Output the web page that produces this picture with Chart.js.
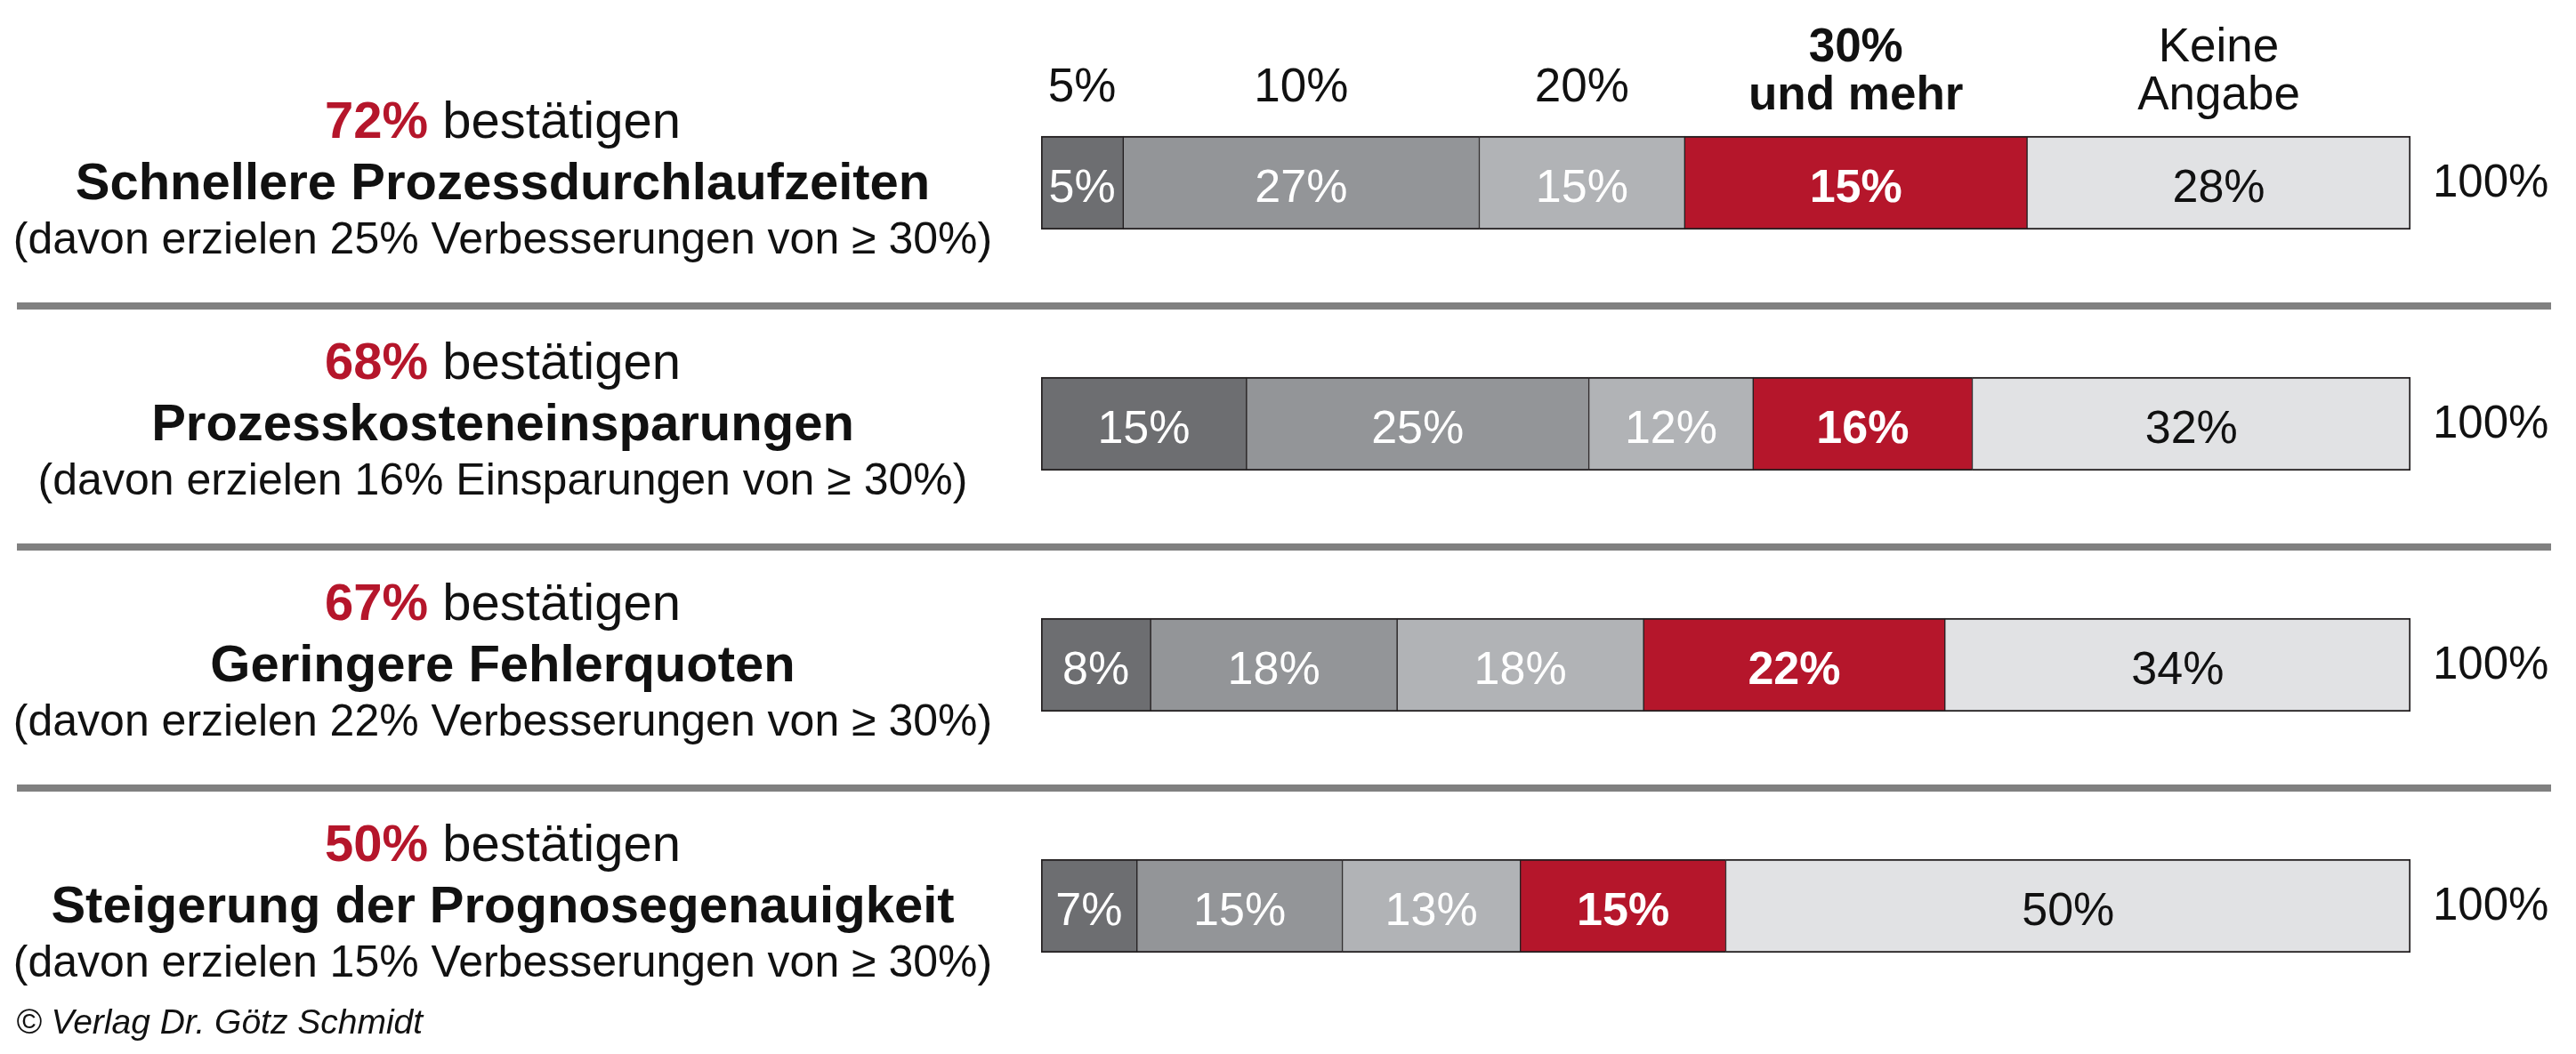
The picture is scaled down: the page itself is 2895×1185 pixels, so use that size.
<!DOCTYPE html>
<html lang="de">
<head>
<meta charset="utf-8">
<title>Bestätigte Verbesserungen</title>
<script src="https://cdn.jsdelivr.net/npm/chart.js@4.4.1/dist/chart.umd.min.js"></script>
<style>
  html, body { margin: 0; padding: 0; background: #fff; }
  #wrap { width: 2895px; height: 1185px; }
</style>
</head>
<body>
<div id="wrap"><canvas id="chart" width="2895" height="1185"></canvas></div>
<script>
// rows, top to bottom
const shares = ["72%", "68%", "67%", "50%"];
const titles = [
  "Schnellere Prozessdurchlaufzeiten",
  "Prozesskosteneinsparungen",
  "Geringere Fehlerquoten",
  "Steigerung der Prognosegenauigkeit"
];
const notes = [
  "(davon erzielen 25% Verbesserungen von \u2265 30%)",
  "(davon erzielen 16% Einsparungen von \u2265 30%)",
  "(davon erzielen 22% Verbesserungen von \u2265 30%)",
  "(davon erzielen 15% Verbesserungen von \u2265 30%)"
];

// column headers above the first bar
const headers = [["5%"], ["10%"], ["20%"], ["30%", "und mehr"], ["Keine", "Angabe"]];

// segment widths as drawn (row 1 is drawn 6/26/15/25/28, its printed labels differ)
const seg5 = [6, 15, 8, 7];
const seg10 = [26, 25, 18, 15];
const seg20 = [15, 12, 18, 13];
const seg30 = [25, 16, 22, 15];
const segNone = [28, 32, 34, 50];

// labels printed in the segments
const lbl5 = ["5%", "15%", "8%", "7%"];
const lbl10 = ["27%", "25%", "18%", "15%"];
const lbl20 = ["15%", "12%", "18%", "13%"];
const lbl30 = ["15%", "16%", "22%", "15%"];
const lblNone = ["28%", "32%", "34%", "50%"];
const totals = ["100%", "100%", "100%", "100%"];

const FONT = '"Liberation Sans", Arial, Helvetica, sans-serif';
const RED = "#b5162b";
const INK = "#111111";

function font(size, weight, style) {
  return `${style || "normal"} ${weight || "normal"} ${size}px ${FONT}`;
}

function segment(data, printed, color, textColor, bold, edge) {
  return {
    data: data,
    printed: printed,
    labelColor: textColor,
    labelBold: bold,
    backgroundColor: color,
    borderColor: "#231f20",
    borderWidth: {
      top: 2,
      bottom: 2,
      left: edge === "first" ? 2 : 1,
      right: edge === "last" ? 2 : 1
    },
    borderSkipped: false,
    barThickness: 105
  };
}

const decor = {
  id: "decor",
  afterDatasetsDraw(chart) {
    const ctx = chart.ctx;
    const metas = chart.data.datasets.map((d, i) => chart.getDatasetMeta(i));
    ctx.save();
    ctx.textBaseline = "alphabetic";

    // separators between rows
    const rows = metas[0].data;
    ctx.fillStyle = "#808080";
    for (let i = 0; i < rows.length - 1; i++) {
      const y = (rows[i].y + rows[i + 1].y) / 2 + 3;
      ctx.fillRect(19, y - 4, 2848, 8);
    }

    // labels inside the segments
    ctx.textAlign = "center";
    metas.forEach((meta, di) => {
      const ds = chart.data.datasets[di];
      meta.data.forEach((bar, ri) => {
        ctx.font = font(52, ds.labelBold ? "bold" : "normal");
        ctx.fillStyle = ds.labelColor;
        ctx.fillText(ds.printed[ri], (bar.x + bar.base) / 2, bar.y + 21);
      });
    });

    // column headers, centred on the first bar's segments
    metas.forEach((meta, di) => {
      const bar = meta.data[0];
      const cx = (bar.x + bar.base) / 2;
      const top = bar.y - bar.height / 2;
      const lines = headers[di];
      ctx.font = font(53, di === 3 ? "bold" : "normal");
      ctx.fillStyle = INK;
      if (lines.length === 1) {
        ctx.fillText(lines[0], cx, top - 39);
      } else {
        ctx.fillText(lines[0], cx, top - 84);
        ctx.fillText(lines[1], cx, top - 30);
      }
    });

    // 100% at the end of each bar
    ctx.textAlign = "left";
    ctx.font = font(51);
    ctx.fillStyle = INK;
    rows.forEach((bar, ri) => {
      ctx.fillText(totals[ri], chart.chartArea.right + 25, bar.y + 15);
    });

    // left text blocks
    const cx = 565;
    rows.forEach((bar, ri) => {
      const y = bar.y;
      ctx.textAlign = "left";
      ctx.font = font(58, "bold");
      const w1 = ctx.measureText(shares[ri]).width;
      ctx.font = font(58);
      const rest = " best\u00e4tigen";
      const w2 = ctx.measureText(rest).width;
      const x0 = cx - (w1 + w2) / 2;
      ctx.font = font(58, "bold");
      ctx.fillStyle = RED;
      ctx.fillText(shares[ri], x0, y - 51);
      ctx.font = font(58);
      ctx.fillStyle = INK;
      ctx.fillText(rest, x0 + w1, y - 51);

      ctx.textAlign = "center";
      ctx.font = font(58, "bold");
      ctx.fillText(titles[ri], cx, y + 18);
      ctx.font = font(50);
      ctx.fillText(notes[ri], cx, y + 79);
    });

    // copyright
    ctx.textAlign = "left";
    ctx.font = font(39, "normal", "italic");
    ctx.fillStyle = INK;
    ctx.fillText("\u00a9 Verlag Dr. G\u00f6tz Schmidt", 18, 1162);

    ctx.restore();
  }
};

new Chart(document.getElementById("chart"), {
  type: "bar",
  data: {
    labels: titles,
    datasets: [
      segment(seg5, lbl5, "#6d6e71", "#ffffff", false, "first"),
      segment(seg10, lbl10, "#939598", "#ffffff", false),
      segment(seg20, lbl20, "#b1b3b6", "#ffffff", false),
      segment(seg30, lbl30, RED, "#ffffff", true),
      segment(segNone, lblNone, "#e1e2e4", INK, false, "last")
    ]
  },
  options: {
    indexAxis: "y",
    responsive: false,
    animation: false,
    layout: {
      padding: { left: 1170, right: 186, top: 70, bottom: 31 }
    },
    scales: {
      x: { stacked: true, min: 0, max: 100, display: false },
      y: { stacked: true, display: false }
    },
    plugins: {
      legend: { display: false },
      tooltip: { enabled: false }
    }
  },
  plugins: [decor]
});
</script>
</body>
</html>
